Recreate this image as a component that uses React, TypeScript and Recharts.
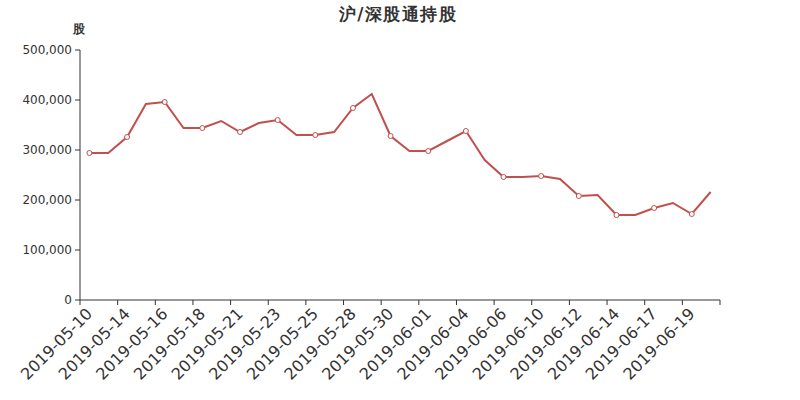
import React from 'react';
import { LineChart, Line, XAxis, YAxis } from 'recharts';

const dates = [
  '2019-05-10', '2019-05-13', '2019-05-14', '2019-05-15', '2019-05-16', '2019-05-17',
  '2019-05-18', '2019-05-20', '2019-05-21', '2019-05-22', '2019-05-23', '2019-05-24',
  '2019-05-25', '2019-05-27', '2019-05-28', '2019-05-29', '2019-05-30', '2019-05-31',
  '2019-06-01', '2019-06-03', '2019-06-04', '2019-06-05', '2019-06-06', '2019-06-07',
  '2019-06-10', '2019-06-11', '2019-06-12', '2019-06-13', '2019-06-14', '2019-06-15',
  '2019-06-17', '2019-06-18', '2019-06-19', '2019-06-20',
];

const holdings = [
  294000, 294000, 326000, 392000, 396000, 344000,
  344000, 358000, 336000, 354000, 360000, 330000,
  330000, 336000, 384000, 412000, 328000, 298000,
  298000, 318000, 338000, 280000, 246000, 246000,
  248000, 242000, 208000, 210000, 170000, 170000,
  184000, 194000, 172000, 216000,
];

const yTicks = [0, 100000, 200000, 300000, 400000, 500000];

const data = dates.map((d, i) => ({ idx: i, date: d, value: holdings[i] }));
const xTicks = Array.from({ length: dates.length / 2 + 1 }, (_, k) => k * 2 - 0.5);

const RED = '#c1504c';
const FONT = '"DejaVu Sans", sans-serif';

const XTick = (props: any) => {
  const { x, y, payload } = props;
  const idx = Math.round(payload.value + 0.5);
  const label = dates[idx];
  if (!label) return null;
  const half = 640 / dates.length / 2;
  const tx = x + half;
  const ty = y + 4;
  return (
    <text
      x={tx}
      y={ty}
      textAnchor="end"
      dominantBaseline="central"
      transform={`rotate(-45, ${tx}, ${ty})`}
      fontSize={16}
      fill="#333"
      fontFamily={FONT}
    >
      {label}
    </text>
  );
};

const Dot = (props: any) => {
  const { cx, cy, index } = props;
  if (index % 2 !== 0) return <g key={index} />;
  return <circle key={index} cx={cx} cy={cy} r={2.5} fill="#fff" stroke={RED} strokeWidth={1} />;
};

export default function App() {
  return (
    <div style={{ position: 'absolute', left: 0, top: 0, width: 800, height: 400, background: '#fff' }}>
      <svg width={800} height={400} style={{ position: 'absolute', left: 0, top: 0 }}>
        <text x={398} y={14} textAnchor="middle" dominantBaseline="central" fontSize={17} fontWeight="bold" fill="#333" fontFamily={FONT} letterSpacing={1.5}>
          沪/深股通持股
        </text>
        <text x={79} y={29} textAnchor="middle" dominantBaseline="central" fontSize={12} fontWeight="bold" fill="#333" fontFamily={FONT}>
          股
        </text>
      </svg>
      <div style={{ position: 'absolute', left: 0, top: 0 }}>
        <LineChart width={800} height={400} data={data} margin={{ top: 50, right: 80, bottom: 0, left: 0 }}>
          <XAxis
            dataKey="idx"
            type="number"
            domain={[-0.5, dates.length - 0.5]}
            ticks={xTicks}
            interval={0}
            height={100}
            tick={<XTick />}
            tickSize={5}
            axisLine={{ stroke: '#333' }}
            tickLine={{ stroke: '#333' }}
            allowDecimals
          />
          <YAxis
            type="number"
            domain={[0, 500000]}
            ticks={yTicks}
            width={80}
            tickSize={5}
            tickMargin={3}
            tickFormatter={(v: number) => v.toLocaleString('en-US')}
            tick={{ fontSize: 12, fill: '#333', fontFamily: FONT }}
            axisLine={{ stroke: '#333' }}
            tickLine={{ stroke: '#333' }}
          />
          <Line
            type="linear"
            dataKey="value"
            stroke={RED}
            strokeWidth={2}
            dot={<Dot />}
            activeDot={false}
            isAnimationActive={false}
          />
        </LineChart>
      </div>
    </div>
  );
}
